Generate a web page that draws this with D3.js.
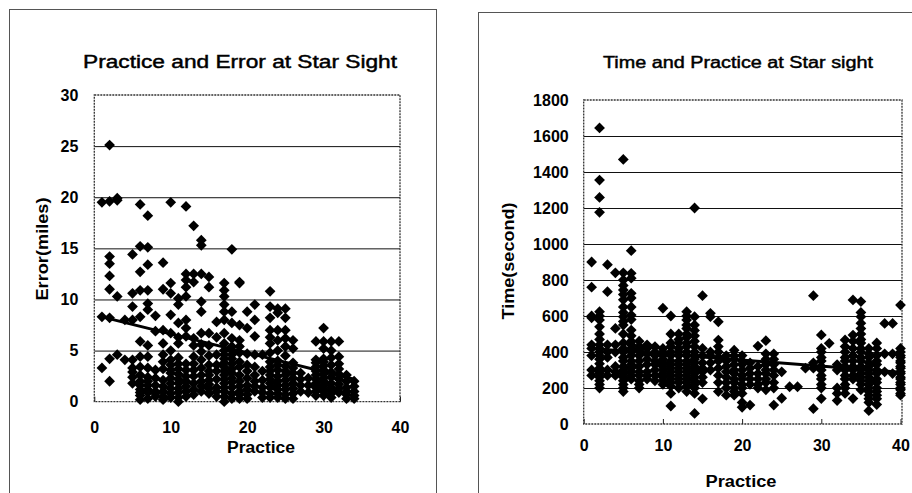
<!DOCTYPE html>
<html>
<head>
<meta charset="utf-8">
<script src="https://cdn.jsdelivr.net/npm/d3@7"></script>
<style>
  body { margin: 0; background: #fff; }
  svg { display: block; }
  text { font-family: "Liberation Sans", Arial, sans-serif; fill: #000; }
</style>
</head>
<body>
<svg id="chart" width="912" height="493"></svg>
<script>
// tick values
let practiceTicks = [0, 10, 20, 30, 40]
let errorTicks = [0, 5, 10, 15, 20, 25, 30]
let timeTicks = [0, 200, 400, 600, 800, 1000, 1200, 1400, 1600, 1800]

// error (miles), grouped by practice count
let errorCols = [
    [1, [19.5, 8.3, 3.3]],
    [2, [25.1, 19.6, 14.2, 13.5, 12.3, 11.0, 8.2, 4.2, 2.0]],
    [3, [19.9, 19.7, 10.3, 4.6]],
    [4, [8.0, 4.1]],
    [5, [14.4, 10.6, 9.3, 8.0, 4.1, 3.3, 2.9, 2.4, 1.8]],
    [6, [19.3, 15.2, 12.7, 10.9, 8.3, 5.9, 4.4, 3.4, 2.6, 2.0, 1.6, 1.2, 0.9, 0.6, 0.2]],
    [7, [18.2, 15.1, 13.4, 10.9, 9.6, 9.0, 5.5, 4.4, 3.3, 2.4, 2.0, 1.6, 1.2, 0.9, 0.3]],
    [8, [8.4, 6.9, 3.1, 2.3, 1.6, 1.0, 0.8, 0.5]],
    [9, [13.6, 11.0, 7.0, 5.7, 4.6, 3.9, 3.2, 2.1, 1.5, 1.0, 0.5, 0.2]],
    [10, [19.5, 11.6, 10.6, 8.5, 6.7, 5.0, 4.1, 3.6, 3.1, 2.8, 2.3, 1.8, 1.3, 0.8, 0.4]],
    [11, [10.1, 9.5, 7.7, 6.3, 5.7, 4.3, 3.7, 3.2, 2.7, 2.2, 1.8, 1.3, 0.9, 0.4, 0.0]],
    [12, [19.1, 12.5, 11.9, 11.2, 10.3, 8.0, 7.2, 6.4, 3.7, 3.1, 2.5, 2.0, 1.5, 1.0, 0.5]],
    [13, [17.2, 12.5, 11.7, 6.2, 5.5, 4.4, 3.7, 3.1, 2.5, 1.8, 1.2, 0.7]],
    [14, [15.8, 15.3, 12.5, 9.8, 8.8, 6.7, 5.6, 4.9, 4.1, 3.3, 2.6, 2.0, 1.5, 1.0]],
    [15, [12.2, 11.2, 6.7, 5.5, 4.5, 3.6, 3.0, 2.6, 2.1, 1.7, 1.3, 0.8]],
    [16, [7.8, 6.3, 4.6, 3.6, 3.0, 2.2, 1.4, 1.0, 0.5]],
    [17, [11.6, 10.9, 10.3, 9.5, 8.8, 8.0, 6.7, 5.7, 5.0, 4.6, 4.2, 3.8, 3.4, 3.0, 2.6, 2.2, 1.8, 1.4, 1.0, 0.5, 0.0]],
    [18, [14.9, 8.8, 7.7, 6.2, 5.4, 5.0, 4.6, 4.2, 3.7, 3.2, 2.8, 2.3, 1.9, 1.4, 0.8, 0.3]],
    [19, [11.7, 11.6, 7.5, 6.0, 5.4, 4.8, 3.9, 3.4, 2.6, 2.0, 1.5, 1.0, 0.7, 0.3]],
    [20, [8.8, 7.2, 4.7, 3.6, 3.0, 2.3, 1.6, 1.2, 0.7, 0.3]],
    [21, [9.5, 8.0, 6.4, 4.6, 3.4, 2.6, 2.0, 1.5, 1.0]],
    [22, [4.6, 3.0, 2.1, 1.4, 0.9, 0.4]],
    [23, [10.8, 9.3, 8.2, 7.0, 6.3, 5.7, 4.8, 3.9, 3.4, 3.0, 2.6, 2.2, 1.8, 1.4, 0.8, 0.4]],
    [24, [9.1, 8.7, 7.0, 6.0, 5.0, 4.0, 3.6, 3.1, 2.5, 2.0, 1.6, 1.2, 0.8, 0.4]],
    [25, [9.1, 8.2, 7.0, 6.2, 5.4, 4.5, 3.5, 3.0, 2.6, 2.1, 1.6, 1.2, 0.7, 0.3]],
    [26, [6.0, 5.2, 3.8, 3.3, 2.8, 2.3, 1.8, 1.3, 0.8, 0.3]],
    [27, [2.8, 2.2, 1.6, 1.0]],
    [28, [2.3, 1.6, 0.9]],
    [29, [5.9, 4.1, 3.8, 3.4, 3.0, 2.6, 2.2, 1.8, 1.4, 1.0, 0.6]],
    [30, [7.2, 5.9, 5.2, 4.2, 3.9, 3.5, 3.1, 2.7, 2.3, 2.0, 1.6, 1.2, 1.0, 0.6]],
    [31, [5.9, 5.0, 4.3, 3.6, 2.9, 2.4, 1.8, 1.4, 1.1, 0.8, 0.4]],
    [32, [5.9, 4.4, 3.7, 3.2, 2.7, 2.2, 1.7, 1.3, 0.9]],
    [33, [2.6, 2.0, 1.4, 1.0, 0.7, 0.3]],
    [34, [2.0, 1.5, 1.0, 0.6, 0.3]]
]

// time (seconds), grouped by practice count
let timeCols = [
    [1, [900, 760, 600, 590, 440, 420, 380, 300, 270]],
    [2, [1645, 1355, 1259, 1176, 624, 600, 578, 540, 500, 470, 440, 420, 400, 380, 360, 335, 310, 290, 280, 260, 240, 220, 200]],
    [3, [885, 735, 440, 400, 370, 300, 270]],
    [4, [840, 531, 440, 400, 320, 290, 270]],
    [5, [1470, 840, 800, 770, 745, 720, 690, 650, 620, 596, 570, 550, 500, 450, 420, 400, 370, 350, 320, 300, 280, 260, 240, 220, 200, 180]],
    [6, [963, 837, 810, 726, 700, 650, 605, 580, 522, 490, 460, 440, 420, 400, 380, 350, 330, 310, 290, 270, 250]],
    [7, [460, 430, 410, 380, 350, 320, 290, 270, 240, 220, 200]],
    [8, [440, 420, 390, 360, 330, 290, 270, 250]],
    [9, [430, 400, 380, 350, 330, 300, 270, 240]],
    [10, [643, 420, 400, 380, 360, 340, 320, 300, 280, 260, 240, 220]],
    [11, [600, 500, 450, 430, 400, 380, 350, 330, 310, 290, 270, 250, 230, 210, 170, 100]],
    [12, [500, 470, 450, 420, 400, 380, 350, 330, 310, 290, 270, 250, 230, 200]],
    [13, [624, 600, 578, 550, 530, 500, 480, 450, 430, 400, 380, 350, 330, 310, 290, 270, 250, 230, 210, 180]],
    [14, [1200, 596, 550, 520, 490, 460, 430, 400, 380, 360, 340, 320, 300, 280, 260, 240, 220, 200, 170, 59]],
    [15, [713, 420, 380, 340, 310, 290, 260, 230, 140]],
    [16, [615, 596, 400, 380, 340, 300]],
    [17, [568, 466, 430, 400, 370, 350, 310, 270, 230, 180]],
    [18, [380, 350, 320, 290, 260, 230, 200, 160]],
    [19, [410, 380, 360, 330, 300, 280, 250, 230, 200, 180, 160]],
    [20, [380, 350, 330, 300, 270, 250, 220, 200, 170, 120, 93]],
    [21, [340, 310, 280, 250, 220, 105]],
    [22, [433, 320, 280, 250, 220, 200]],
    [23, [463, 390, 360, 330, 300, 280, 250, 230, 190]],
    [24, [390, 360, 330, 300, 270, 230, 200, 105]],
    [25, [290, 143]],
    [26, [207]],
    [27, [207]],
    [28, [310]],
    [29, [713, 340, 310, 85]],
    [30, [495, 420, 400, 370, 350, 320, 300, 270, 250, 220, 200, 141]],
    [31, [448]],
    [32, [330, 300, 200, 170, 130]],
    [33, [467, 430, 400, 370, 350, 320, 300, 270, 250, 220, 200, 170]],
    [34, [689, 494, 460, 420, 380, 350, 320, 300, 270, 250, 141]],
    [35, [680, 620, 596, 560, 530, 500, 470, 450, 420, 400, 370, 350, 320, 300, 280, 260, 240, 220, 190]],
    [36, [420, 390, 370, 340, 320, 300, 280, 260, 240, 220, 200, 180, 160, 140, 120, 74]],
    [37, [450, 420, 380, 350, 330, 300, 280, 250, 230, 200, 180, 160, 140, 108]],
    [38, [559, 390, 290]],
    [39, [559, 390, 280]],
    [40, [661, 420, 400, 380, 370, 350, 340, 320, 310, 290, 280, 260, 250, 230, 220, 200, 190, 170, 160]]
]

// linear trend lines, end points
let errorTrend = [[1, 8.3], [34, 2.2]]
let timeTrend = [[1, 420], [40, 287]]

let svg = d3.select('#chart')

let flatten = (cols) => cols.flatMap(([p, vals]) => vals.map(v => [p, v]))

let boldText = (sel, size) => sel
    .attr('font-size', size)
    .attr('font-weight', 'bold')
    .attr('font-family', '"Liberation Sans", Arial, sans-serif')

let drawPanel = (cfg) => {

    let g = svg.append('g')

    // outer chart frame (runs off the bottom of the scan)
    g.append('rect')
     .attr('x', cfg.frame[0] + 0.5)
     .attr('y', cfg.frame[1] + 0.5)
     .attr('width', cfg.frame[2])
     .attr('height', 600)
     .attr('fill', 'none')
     .attr('stroke', '#555')
     .attr('stroke-width', 1)

    let x = d3.scaleLinear().domain([0, 40]).range([cfg.left, cfg.xEnd])
    let y = d3.scaleLinear().domain([0, cfg.yMax]).range([cfg.bottom, cfg.top])

    // gridlines
    g.append('g')
     .attr('transform', 'translate(' + cfg.left + ',0)')
     .call(d3.axisLeft(y).tickValues(cfg.yTicks.slice(1, -1)).tickSize(-(cfg.right - cfg.left)).tickFormat(''))
     .call(a => a.select('.domain').remove())
     .call(a => a.selectAll('line').attr('stroke', '#111').attr('stroke-width', 1))

    // plot area border, dotted like the scan
    g.append('rect')
     .attr('x', cfg.left)
     .attr('y', cfg.top)
     .attr('width', cfg.right - cfg.left)
     .attr('height', cfg.bottom - cfg.top)
     .attr('fill', 'none')
     .attr('stroke', '#333')
     .attr('stroke-width', 1.3)
     .attr('stroke-dasharray', '2,1')

    // axes
    g.append('g')
     .attr('transform', 'translate(0,' + cfg.bottom + ')')
     .call(d3.axisBottom(x).tickValues(practiceTicks).tickSizeInner(-5).tickSizeOuter(0).tickPadding(cfg.xPad))
     .call(a => a.select('.domain').remove())
     .call(a => a.selectAll('line').attr('stroke', '#222'))
     .call(a => boldText(a.selectAll('text'), 16))

    g.append('g')
     .attr('transform', 'translate(' + cfg.left + ',0)')
     .call(d3.axisLeft(y).tickValues(cfg.yTicks).tickSize(0).tickPadding(cfg.yPad).tickFormat(d3.format('d')))
     .call(a => a.select('.domain').remove())
     .call(a => boldText(a.selectAll('text'), 16))

    // points
    g.append('g')
     .selectAll('path')
     .data(flatten(cfg.cols))
     .enter()
     .append('path')
     .attr('d', d3.symbol(d3.symbolSquare, 58))
     .attr('transform', (d) => 'translate(' + x(d[0]) + ',' + y(d[1]) + ') rotate(45)')
     .attr('fill', '#000')

    // trend line
    g.append('path')
     .datum(cfg.trend)
     .attr('d', d3.line().x(d => x(d[0])).y(d => y(d[1])))
     .attr('fill', 'none')
     .attr('stroke', '#000')
     .attr('stroke-width', 3)

    // titles, medium weight in the scan
    g.append('text')
     .text(cfg.title)
     .attr('x', cfg.titleX)
     .attr('y', cfg.titleY)
     .attr('text-anchor', 'middle')
     .attr('font-size', cfg.titleSize)
     .attr('stroke', '#000')
     .attr('stroke-width', 0.45)
     .attr('textLength', cfg.titleLen)
     .attr('lengthAdjust', 'spacingAndGlyphs')

    g.append('text')
     .text('Practice')
     .attr('x', cfg.xLabel[0])
     .attr('y', cfg.xLabel[1])
     .attr('text-anchor', 'middle')
     .attr('font-size', 16)
     .attr('font-weight', 'bold')
     .attr('textLength', cfg.xLabel[2])
     .attr('lengthAdjust', 'spacingAndGlyphs')

    g.append('text')
     .text(cfg.yName)
     .attr('transform', 'translate(' + cfg.yLabel[0] + ',' + cfg.yLabel[1] + ') rotate(-90)')
     .attr('text-anchor', 'middle')
     .attr('font-size', 16)
     .attr('font-weight', 'bold')
     .attr('textLength', cfg.yLabel[2])
     .attr('lengthAdjust', 'spacingAndGlyphs')
}

drawPanel({
    frame: [9, 9, 427],
    left: 94.3, right: 400, xEnd: 400, top: 95, bottom: 401.7,
    yMax: 30, yTicks: errorTicks, cols: errorCols, trend: errorTrend,
    xPad: 20, yPad: 16,
    title: 'Practice and Error at Star Sight', titleX: 240, titleY: 68, titleSize: 18, titleLen: 314,
    xLabel: [261, 453, 68], yName: 'Error(miles)', yLabel: [48, 249, 103]
})

drawPanel({
    frame: [478, 12, 500],
    left: 583.7, right: 902, xEnd: 900.5, top: 100, bottom: 424,
    yMax: 1800, yTicks: timeTicks, cols: timeCols, trend: timeTrend,
    xPad: 16, yPad: 15,
    title: 'Time and Practice at Star sight', titleX: 738, titleY: 68, titleSize: 16, titleLen: 270,
    xLabel: [741, 487, 71], yName: 'Time(second)', yLabel: [514, 261, 117]
})
</script>
</body>
</html>
